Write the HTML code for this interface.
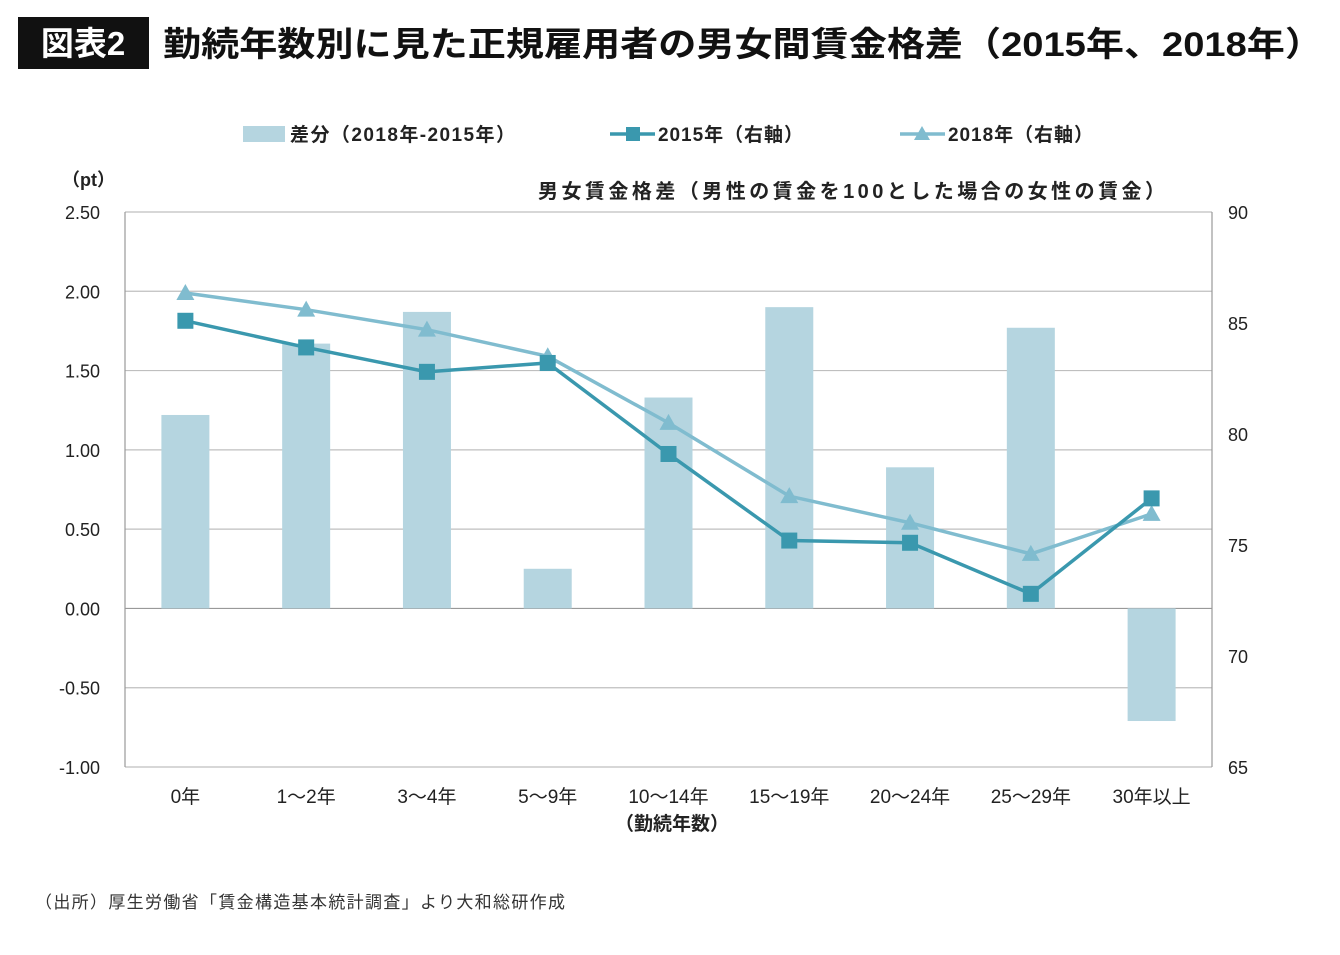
<!DOCTYPE html>
<html><head><meta charset="utf-8"><style>
body{margin:0;background:#fff;font-family:"Liberation Sans","Noto Sans CJK JP",sans-serif;}
</style></head><body>
<svg width="1340" height="950" xmlns="http://www.w3.org/2000/svg" font-family="Liberation Sans, Noto Sans CJK JP, sans-serif">
<rect x="18" y="17" width="131" height="52" fill="#111"/>
<text x="83" y="55" fill="#fff" font-size="33" font-weight="bold" text-anchor="middle">図表2</text>
<text x="163" y="56" fill="#111" font-size="34" font-weight="bold" textLength="1160" lengthAdjust="spacingAndGlyphs">勤続年数別に見た正規雇用者の男女間賃金格差（2015年、2018年）</text>
<g>
<rect x="243" y="126" width="42" height="16" fill="#b5d5e0"/>
<text x="290" y="141" font-size="19" font-weight="bold" fill="#222" textLength="225">差分（2018年-2015年）</text>
<line x1="610" y1="134" x2="655" y2="134" stroke="#3a98ae" stroke-width="3.5"/>
<rect x="626" y="127" width="14" height="14" fill="#3a98ae"/>
<text x="658" y="141" font-size="19" font-weight="bold" fill="#222" textLength="145">2015年（右軸）</text>
<line x1="900" y1="134" x2="945" y2="134" stroke="#80bccf" stroke-width="3.5"/>
<polygon points="922,126 930,140 914,140" fill="#80bccf"/>
<text x="948" y="141" font-size="19" font-weight="bold" fill="#222" textLength="145">2018年（右軸）</text>
</g>
<text x="62" y="186" font-size="18" font-weight="bold" fill="#222">（pt）</text>
<text x="538" y="198" font-size="20" font-weight="bold" fill="#222" textLength="627">男女賃金格差（男性の賃金を100とした場合の女性の賃金）</text>
<g id="grid"></g><g id="bars"></g><g id="lines"></g><g id="ticks"></g>
<text x="672" y="830" font-size="19" font-weight="bold" fill="#222" text-anchor="middle">（勤続年数）</text>
<text x="35" y="908" font-size="17" fill="#333" textLength="530">（出所）厚生労働省「賃金構造基本統計調査」より大和総研作成</text>
</svg>
<script>
const categories=["0年","1～2年","3～4年","5～9年","10～14年","15～19年","20～24年","25～29年","30年以上"];
const diffValues=[1.22,1.67,1.87,0.25,1.33,1.90,0.89,1.77,-0.71];
const values2015=[85.1,83.9,82.8,83.2,79.1,75.2,75.1,72.8,77.1];
const values2018=[86.35,85.6,84.7,83.5,80.5,77.2,76.0,74.6,76.4];
const leftTicks=[2.5,2.0,1.5,1.0,0.5,0,-0.5,-1.0];
const rightTicks=[90,85,80,75,70,65];
const NS="http://www.w3.org/2000/svg";
const X0=125,X1=1212,Y0=212,Y1=767;
const yL=v=>Y0+(2.5-v)/3.5*(Y1-Y0);
const yR=v=>Y0+(90-v)/25*(Y1-Y0);
const step=(X1-X0)/categories.length;
const xC=i=>X0+step*(i+0.5);
function mk(t,a,p){const e=document.createElementNS(NS,t);for(const k in a)e.setAttribute(k,a[k]);p.appendChild(e);return e;}
const grid=document.getElementById('grid'),bars=document.getElementById('bars'),lines=document.getElementById('lines'),ticks=document.getElementById('ticks');
leftTicks.forEach(v=>{
 const l=mk('line',{x1:X0,x2:X1,y1:yL(v),y2:yL(v),stroke:v===0?'#999':'#bfbfbf','stroke-width':1.2},grid);
 
 
 const t=mk('text',{x:100,y:yL(v)+7,'font-size':18,fill:'#222','text-anchor':'end'},ticks);
 t.textContent=v.toFixed(2);
 
 
});
mk('line',{x1:X0,x2:X0,y1:Y0,y2:Y1,stroke:'#999','stroke-width':1.2},grid);
mk('line',{x1:X1,x2:X1,y1:Y0,y2:Y1,stroke:'#999','stroke-width':1.2},grid);
rightTicks.forEach(v=>{
 const t=mk('text',{x:1228,y:yR(v)+7,'font-size':18,fill:'#222'},ticks);
 t.textContent=v;
 
 
});
categories.forEach((c,i)=>{
 const t=mk('text',{x:xC(i),y:803,'font-size':19,fill:'#222','text-anchor':'middle'},ticks);
 t.textContent=c;
 
 
 const v=diffValues[i];
 const b=mk('rect',{x:xC(i)-24,width:48,y:Math.min(yL(v),yL(0)),height:Math.abs(yL(v)-yL(0)),fill:'#b5d5e0'},bars);
 
 
});
function series(vals,color,marker,name){
 const pts=vals.map((v,i)=>[xC(i),yR(v)]);
 const p=mk('polyline',{points:pts.map(p=>p.join(',')).join(' '),fill:'none',stroke:color,'stroke-width':3.5},lines);
 
 
 pts.forEach(([x,y])=>{
  let m;
  if(marker==='sq') m=mk('rect',{x:x-8,y:y-8,width:16,height:16,fill:color},lines);
  else m=mk('polygon',{points:`${x},${y-9} ${x+9},${y+7} ${x-9},${y+7}`,fill:color},lines);
  
  
 });
}
series(values2018,'#80bccf','tri','series-2018');
series(values2015,'#3a98ae','sq','series-2015');
</script>
</body></html>
